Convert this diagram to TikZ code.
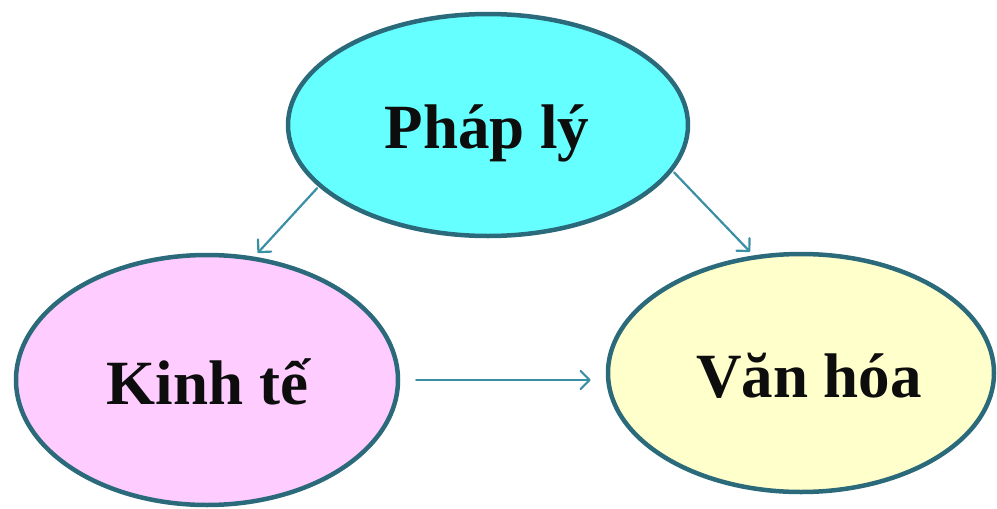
\documentclass[tikz,border=0pt]{standalone}
\usepackage{fontspec}
\setmainfont{Liberation Serif}
\usetikzlibrary{shapes.geometric,arrows.meta}
\definecolor{edgeteal}{HTML}{2B6A7B}
\definecolor{arrowteal}{HTML}{3A8FA5}
\definecolor{cyanfill}{HTML}{66FFFF}
\definecolor{pinkfill}{HTML}{FFCCFF}
\definecolor{yellowfill}{HTML}{FFFFCC}
\tikzset{
  bubble/.style={ellipse, draw=edgeteal, line width=4.5pt, inner sep=0pt},
  label text/.style={anchor=base, font=\fontsize{63}{70}\selectfont\bfseries, text=black!95, inner sep=0pt},
  link/.style={draw=arrowteal, line width=2.2pt, line cap=round, -{Straight Barb[length=9pt,width=18pt,line width=2.2pt,round]}}
}
\begin{document}
\begin{tikzpicture}[x=1pt,y=-1pt]
\useasboundingbox (0,0) rectangle (997,509);
\node[bubble, fill=cyanfill, minimum width=400pt, minimum height=222pt] (top) at (488,125) {};
\node[bubble, fill=pinkfill, minimum width=382pt, minimum height=250pt] (left) at (207,380) {};
\node[bubble, fill=yellowfill, minimum width=386pt, minimum height=238pt] (right) at (801,373) {};
\node[label text] (tt) at (487,148) {Pháp lý};
\node[label text] (lt) at (207.5,404) {Kinh tế};
\node[label text] (rt) at (809,397) {Văn hóa};
\draw[link, shorten <=2pt, shorten >=5pt] (top.200) -- (left.69);
\draw[link, shorten <=2pt, shorten >=5pt] (top.-14.6) -- (right.112.5);
\draw[link, shorten <=16pt, shorten >=15pt] (left.east) -- (left.east -| right.west);
\end{tikzpicture}
\end{document}
